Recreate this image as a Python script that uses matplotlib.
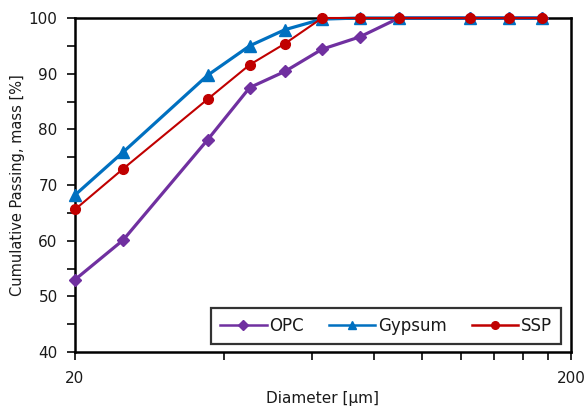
import matplotlib
matplotlib.use("Agg")
import matplotlib.pyplot as plt
from matplotlib.ticker import FixedLocator, NullFormatter, FixedFormatter

plt.rcParams['font.family'] = ['DejaVu Sans']

diameter = [20, 25, 37, 45, 53, 63, 75, 90, 125, 150, 175]
opc = [53.0, 60.1, 78.1, 87.5, 90.4, 94.4, 96.6, 100, 100, 100, 100]
gypsum = [68.2, 75.9, 89.7, 95.0, 97.9, 99.8, 100, 100, 100, 100, 100]
ssp = [65.6, 72.9, 85.4, 91.6, 95.4, 100, 100, 100, 100, 100, 100]

x_major = [20, 200]
x_minor = [40, 60, 80, 100, 120, 140, 160, 180]
y_major = [40, 50, 60, 70, 80, 90, 100]
y_minor = [45, 55, 65, 75, 85, 95]

fig = plt.figure(figsize=(5.87, 4.08), dpi=100)
ax = fig.add_axes([75/587, 1-352/408, (571-75)/587, (352-18)/408])

ax.plot(diameter, opc, color='#7030A0', lw=2.3, marker='D', ms=6.5, label='OPC', zorder=3, clip_on=False)
ax.plot(diameter, gypsum, color='#0070C0', lw=2.3, marker='^', ms=8.5, label='Gypsum', zorder=4, clip_on=False)
ax.plot(diameter, ssp, color='#C00000', lw=1.5, marker='o', ms=7, label='SSP', zorder=5, clip_on=False)

ax.set_xscale('log')
ax.set_xlim(20, 200)
ax.set_ylim(40, 100)
ax.xaxis.set_major_locator(FixedLocator(x_major))
ax.xaxis.set_major_formatter(FixedFormatter([str(v) for v in x_major]))
ax.xaxis.set_minor_locator(FixedLocator(x_minor))
ax.xaxis.set_minor_formatter(NullFormatter())
ax.yaxis.set_major_locator(FixedLocator(y_major))
ax.yaxis.set_minor_locator(FixedLocator(y_minor))

for s in ax.spines.values():
    s.set_linewidth(1.8)
    s.set_color('black')
ax.tick_params(axis='both', which='both', direction='out', length=5.5, width=1.3, labelsize=11, colors='#1a1a1a')
ax.tick_params(axis='x', which='major', pad=8)
ax.tick_params(axis='y', which='major', pad=7)

ax.set_xlabel('Diameter [µm]', fontsize=11, labelpad=4, color='#1a1a1a')
ax.set_ylabel('Cumulative Passing, mass [%]', fontsize=10.5, labelpad=3, color='#1a1a1a')

leg = ax.legend(loc='lower right', ncol=3, fontsize=12, frameon=True, fancybox=False,
                edgecolor='black', handlelength=2.8, columnspacing=1.5, handletextpad=0.15,
                borderpad=0.55, borderaxespad=0.0, bbox_to_anchor=(0.98, 0.024))
leg.get_frame().set_linewidth(1.6)
for t in leg.get_texts():
    t.set_color('#1a1a1a')
for ln in leg.get_lines():
    ln.set_linewidth(1.8)
    ln.set_markersize(5.5)

fig.savefig('out.png', dpi=100)
